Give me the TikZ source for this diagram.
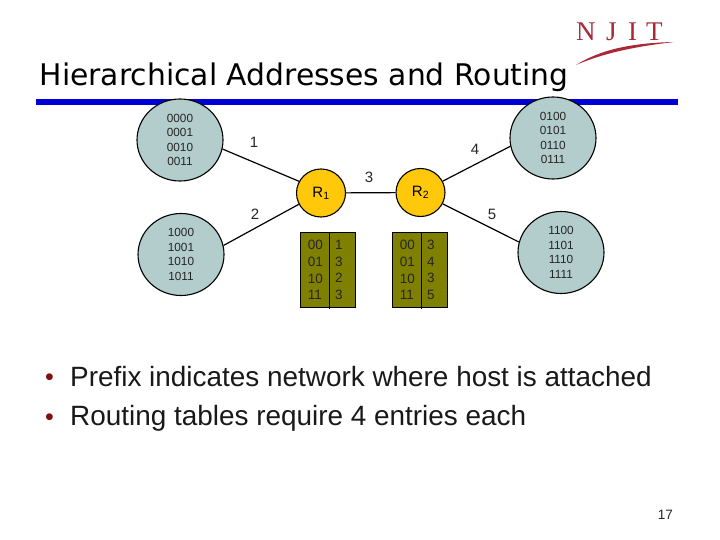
\documentclass[tikz,border=0pt]{standalone}
\usepackage{fontspec}
\setmainfont{Liberation Sans}
\newfontfamily\titlefont{DejaVu Sans}
\newfontfamily\logofont{Liberation Serif}
\usetikzlibrary{shapes.geometric}
\definecolor{netfill}{RGB}{179,204,204}
\definecolor{routerfill}{RGB}{255,200,10}
\definecolor{tablefill}{RGB}{128,128,0}
\definecolor{barblue}{RGB}{0,0,214}
\definecolor{logored}{RGB}{170,40,55}
\definecolor{bulletred}{RGB}{128,16,16}
\tikzset{
  netnode/.style={ellipse,draw=black,line width=1.1pt,fill=netfill,minimum width=86pt,minimum height=82pt,inner sep=0pt,align=center,font=\fontsize{11.8}{14.6}\selectfont,text=black!85},
  routernode/.style={ellipse,draw=black,line width=1.1pt,fill=routerfill,minimum width=49pt,minimum height=48pt,inner sep=0pt,font=\fontsize{15}{16}\selectfont},
  tablebox/.style={rectangle,draw=black,line width=0.9pt,fill=tablefill,minimum width=55pt,minimum height=75pt,inner sep=0pt},
  tabletext/.style={align=left,inner sep=0pt,font=\fontsize{13.5}{16.6}\selectfont,text=black!85},
  linklabel/.style={inner sep=0pt,font=\fontsize{15}{16}\selectfont,text=black!85},
  linkline/.style={line width=1.2pt,black},
  bullettext/.style={anchor=base west,inner sep=0pt,font=\fontsize{27.9}{30}\selectfont,text=black!90},
  bulletmark/.style={anchor=base west,inner sep=0pt,font=\fontsize{25}{30}\selectfont,text=bulletred}
}
\begin{document}
\begin{tikzpicture}[x=1pt,y=-1pt]
\useasboundingbox (0,0) rectangle (720,540);
\fill[white] (0,0) rectangle (720,540);
% logo
\node[inner sep=0pt,anchor=base west,logored,font=\logofont\fontsize{27}{27}\selectfont] (logo) at (576,41) {N\kern10.5pt J\kern11.5pt I\kern9pt T};
\fill[logored] (576,65) .. controls (600,50) and (630,43) .. (674,42) .. controls (640,46) and (606,52) .. (576,65) -- cycle;
% title
\node[inner sep=0pt,anchor=base west,font=\titlefont\fontsize{29.8}{32}\selectfont] (title) at (39.5,86) {Hierarchical Addresses and Routing};
\fill[barblue] (36,99) rectangle (678,105);
% networks
\node[netnode] (nw) at (180,140) {0000\\0001\\0010\\0011};
\node[netnode] (sw) at (181,254.5) {1000\\1001\\1010\\1011};
\node[netnode] (ne) at (553,138) {0100\\0101\\0110\\0111};
\node[netnode] (se) at (561,252.5) {1100\\1101\\1110\\1111};
% routers
\node[routernode] (r1) at (321,193) {R\textsubscript{1}};
\node[routernode] (r2) at (420.5,192.5) {R\textsubscript{2}};
% links
\draw[linkline] (nw.-12) -- (r1.152);
\draw[linkline] (sw.12) -- (r1.207);
\draw[linkline] (r1) -- (r2);
\draw[linkline] (r2.27) -- (ne.191);
\draw[linkline] (r2.-27) -- (se.166);
\node[linklabel] (l1) at (254,142) {1};
\node[linklabel] (l2) at (255,214) {2};
\node[linklabel] (l3) at (369,177) {3};
\node[linklabel] (l4) at (475,149) {4};
\node[linklabel] (l5) at (492,214) {5};
% tables
\node[tablebox] (t1) at (327.5,269.5) {};
\coordinate (t1a) at (329,232);
\coordinate (t1b) at (329,309);
\draw[line width=0.9pt] (t1a) -- (t1b);
\node[tabletext,anchor=east] (t1l) at (323,270) {00\\01\\10\\11};
\node[tabletext,anchor=west] (t1r) at (335,270) {1\\3\\2\\3};
\node[tablebox] (t2) at (419.5,269.5) {};
\coordinate (t2a) at (421.5,232);
\coordinate (t2b) at (421.5,309);
\draw[line width=0.9pt] (t2a) -- (t2b);
\node[tabletext,anchor=east] (t2l) at (415,270) {00\\01\\10\\11};
\node[tabletext,anchor=west] (t2r) at (427,270) {3\\4\\3\\5};
% bullets
\node[bulletmark] (b1) at (45,385) {•};
\node[bulletmark] (b2) at (45,425) {•};
\node[bullettext] (t3) at (70,386) {Prefix indicates network where host is attached};
\node[bullettext] (t4) at (70,425.5) {Routing tables require 4 entries each};
\node[inner sep=0pt,anchor=base east,font=\fontsize{13.5}{14}\selectfont,text=black!85] (pg) at (673,519) {17};
\end{tikzpicture}
\end{document}
